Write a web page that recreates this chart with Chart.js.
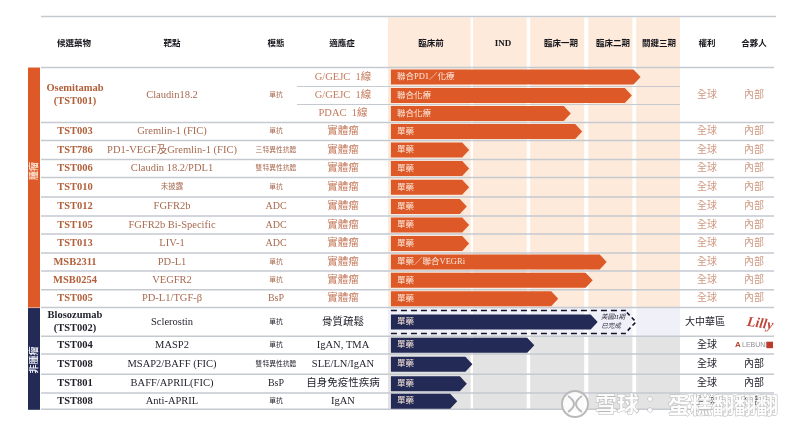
<!DOCTYPE html>
<html>
<head>
<meta charset="utf-8">
<script src="https://cdn.jsdelivr.net/npm/chart.js@4"></script>
<style>html,body{margin:0;background:#fff}#wrap{width:800px;height:430px}</style>
</head>
<body>
<div id="wrap"><canvas id="c" width="800" height="430"></canvas></div>
<script>
const SERIF = "'Liberation Serif','Noto Sans CJK TC',serif";
const CJK = "'Noto Sans CJK TC','Liberation Serif',sans-serif";
const ORANGE = '#dd5a28', NAVY = '#222a55', PEACH = '#fdeadb', GREY = '#e3e3e3', LAV = '#f0f1f8', RULE = '#c5c9d0';
const TEXT_O = '#a86a50', DRUG_O = '#b2603a', TEXT_N = '#1f1f2a', PALE_O = '#cf9a82';

// header
const headersLeft = ['候選藥物', '靶點', '模態', '適應症'];
const stages = ['臨床前', 'IND', '臨床一期', '臨床二期', '關鍵三期'];
const headersRight = ['權利', '合夥人'];
// stage columns on the pipeline axis, 0-100
const stageFrom = [0, 29.1, 48.7, 68.6, 85];
const stageTo = [28.3, 47.5, 67.2, 83.7, 100];

// row edges in row units, first one is the header bottom
const rowEdges = [0, 1.03, 2.01, 2.99, 3.97, 5.0, 5.98, 7.04, 8.07, 9.05, 10.08, 11.06, 12.08, 13.05, 14.61, 15.58, 16.67, 17.7, 18.58];
const indications = ['G/GEJC  1線', 'G/GEJC  1線', 'PDAC  1線', '實體瘤', '實體瘤', '實體瘤', '實體瘤', '實體瘤', '實體瘤', '實體瘤', '實體瘤', '實體瘤', '實體瘤', '骨質疏鬆', 'IgAN, TMA', 'SLE/LN/IgAN', '自身免疫性疾病', 'IgAN'];
const barLabels = ['聯合PD1／化療', '聯合化療', '聯合化療', '單藥', '單藥', '單藥', '單藥', '單藥', '單藥', '單藥', '單藥／聯合VEGRi', '單藥', '單藥', '單藥', '單藥', '單藥', '單藥', '單藥'];
const barStart = [1, 1, 1, 1, 1, 1, 1, 1, 1, 1, 1, 1, 1, 1, 1, 1, 1, 1];
const barEnd = [86.5, 83.5, 62.6, 66.5, 27.8, 27.8, 27.8, 27, 27.8, 27.8, 74.9, 70.1, 58.3, 71.8, 50.1, 28.9, 27, 23.7];
const oncologyRows = 13;
const bloRow = 13;
const bloDashedEnd = 84.9;

// one entry per drug, first three rows share Osemitamab
const drugSpans = [3, 1, 1, 1, 1, 1, 1, 1, 1, 1, 1, 1, 1, 1, 1, 1];
const drugs = ['Osemitamab\n(TST001)', 'TST003', 'TST786', 'TST006', 'TST010', 'TST012', 'TST105', 'TST013', 'MSB2311', 'MSB0254', 'TST005', 'Blosozumab\n(TST002)', 'TST004', 'TST008', 'TST801', 'TST808'];
const targets = ['Claudin18.2', 'Gremlin-1 (FIC)', 'PD1-VEGF及Gremlin-1 (FIC)', 'Claudin 18.2/PDL1', '未披露', 'FGFR2b', 'FGFR2b Bi-Specific', 'LIV-1', 'PD-L1', 'VEGFR2', 'PD-L1/TGF-β', 'Sclerostin', 'MASP2', 'MSAP2/BAFF (FIC)', 'BAFF/APRIL(FIC)', 'Anti-APRIL'];
const modalities = ['單抗', '單抗', '三特異性抗體', '雙特異性抗體', '單抗', 'ADC', 'ADC', 'ADC', '單抗', '單抗', 'BsP', '單抗', '單抗', '雙特異性抗體', 'BsP', '單抗'];
const rights = ['全球', '全球', '全球', '全球', '全球', '全球', '全球', '全球', '全球', '全球', '全球', '大中華區', '全球', '全球', '全球', '全球'];
const partners = ['內部', '內部', '內部', '內部', '內部', '內部', '內部', '內部', '內部', '內部', '內部', '', '', '內部', '內部', '內部'];

const rowMid = (i) => (rowEdges[i] + rowEdges[i + 1]) / 2;
const Y_HEAD = -1.32, Y_TOP = -2.72, Y_END = 18.58;

// pipeline bars are arrows, not rectangles
Chart.BarElement.prototype.draw = function (ctx) {
  const { x, y, base, height, options } = this;
  const top = y - height / 2, bot = y + height / 2;
  ctx.save();
  if (options.borderWidth > 0) {
    ctx.strokeStyle = options.borderColor;
    ctx.lineWidth = 1.6;
    ctx.setLineDash([6, 4]);
    ctx.beginPath();
    ctx.moveTo(base, top); ctx.lineTo(x - 10, top);
    ctx.moveTo(base, bot); ctx.lineTo(x - 10, bot);
    ctx.stroke();
    ctx.setLineDash([4, 3]);
    ctx.beginPath();
    ctx.moveTo(x - 9, top + 2); ctx.lineTo(x, y); ctx.lineTo(x - 9, bot - 2);
    ctx.stroke();
  } else {
    ctx.fillStyle = options.backgroundColor;
    ctx.beginPath();
    ctx.moveTo(base, top); ctx.lineTo(x - 7, top); ctx.lineTo(x, y); ctx.lineTo(x - 7, bot); ctx.lineTo(base, bot);
    ctx.closePath();
    ctx.fill();
  }
  ctx.restore();
};

function put(ctx, s, x, y, font, color, align) {
  ctx.font = font;
  ctx.fillStyle = color;
  ctx.textAlign = align || 'center';
  ctx.textBaseline = 'middle';
  ctx.fillText(s, x, y);
}

function hline(ctx, x0, x1, y, w) {
  ctx.strokeStyle = RULE;
  ctx.lineWidth = w || 1.4;
  ctx.beginPath(); ctx.moveTo(x0, y); ctx.lineTo(x1, y); ctx.stroke();
}

const bands = {
  id: 'bands',
  beforeDatasetsDraw(chart) {
    const { ctx, scales: { x, y } } = chart;
    ctx.save();
    stageFrom.forEach((f, i) => {
      const x0 = x.getPixelForValue(f), x1 = x.getPixelForValue(stageTo[i]);
      const fill = (a, b, col) => {
        ctx.fillStyle = col;
        ctx.fillRect(x0, y.getPixelForValue(a), x1 - x0, y.getPixelForValue(b) - y.getPixelForValue(a));
      };
      fill(Y_TOP, rowEdges[oncologyRows], PEACH);
      fill(rowEdges[bloRow], rowEdges[bloRow + 1], LAV);
      fill(rowEdges[bloRow + 1], Y_END, GREY);
    });
    const px = (v) => y.getPixelForValue(v);
    hline(ctx, 41, 776, px(Y_TOP) - 1);
    hline(ctx, 41, 774, px(0));
    rowEdges.slice(1).forEach((e, i) => {
      if (i < 2) hline(ctx, 297, x.getPixelForValue(100), px(e), 1);
      else hline(ctx, 41, 774, px(e), 1.5);
    });
    ctx.restore();
  }
};

const table = {
  id: 'table',
  afterDatasetsDraw(chart) {
    const { ctx, scales: { x, y } } = chart;
    const px = (v) => y.getPixelForValue(v);
    ctx.save();

    // side stripes
    ctx.fillStyle = ORANGE;
    ctx.fillRect(28, px(0), 12, px(rowEdges[oncologyRows]) - px(0));
    ctx.fillStyle = NAVY;
    ctx.fillRect(28, px(rowEdges[oncologyRows]) + 0.5, 12, px(Y_END) - px(rowEdges[oncologyRows]));
    ctx.save();
    ctx.translate(34, 171); ctx.rotate(-Math.PI / 2);
    put(ctx, '腫瘤', 0, 0, `bold 9px ${CJK}`, '#fbe3d3');
    ctx.restore();
    ctx.save();
    ctx.translate(34, 360); ctx.rotate(-Math.PI / 2);
    put(ctx, '非腫瘤', 0, 0, `bold 9px ${CJK}`, '#e8e9f2');
    ctx.restore();

    // header row
    const hy = px(Y_HEAD);
    const hFont = `bold 8.5px ${CJK}`;
    [74, 172, 276, 342].forEach((cx, i) => put(ctx, headersLeft[i], cx, hy, hFont, '#15151c'));
    [431, 503, 561, 613, 659].forEach((cx, i) =>
      put(ctx, stages[i], cx, hy, stages[i] === 'IND' ? `bold 9px ${SERIF}` : hFont, '#15151c'));
    [707, 754].forEach((cx, i) => put(ctx, headersRight[i], cx, hy, hFont, '#15151c'));

    // indications + bar labels
    indications.forEach((s, i) => {
      const cy = px(rowMid(i));
      put(ctx, s, 343, cy, `10.5px ${SERIF}`, i < oncologyRows ? '#c47a5c' : TEXT_N);
      put(ctx, barLabels[i], 397, cy, `8.5px ${SERIF}`, '#fbe9de', 'left');
    });

    // one row per drug
    let at = 0;
    drugs.forEach((name, i) => {
      const cy = (px(rowEdges[at]) + px(rowEdges[at + drugSpans[i]])) / 2;
      const onc = at < oncologyRows;
      const lines = name.split('\n');
      lines.forEach((l, k) => {
        const ly = cy + (k - (lines.length - 1) / 2) * 13;
        put(ctx, l, 75, ly, `bold 10.5px ${SERIF}`, onc ? DRUG_O : TEXT_N);
      });
      put(ctx, targets[i], 172, cy, (targets[i] === '未披露' ? '7.5px ' : '10.5px ') + SERIF, onc ? TEXT_O : TEXT_N);
      const big = /^[A-Z]/.test(modalities[i]);
      put(ctx, modalities[i], 276, cy, (big ? '10px ' : '6.8px ') + SERIF, onc ? TEXT_O : TEXT_N);
      put(ctx, rights[i], i === 11 ? 705 : 707, cy, `10px ${SERIF}`, onc ? PALE_O : TEXT_N);
      if (partners[i]) put(ctx, partners[i], 754, cy, `10px ${SERIF}`, onc ? PALE_O : TEXT_N);
      at += drugSpans[i];
    });

    // note at the tip of the dashed arrow
    const bloY = px(rowMid(bloRow));
    put(ctx, '美國II期', 613, bloY - 4.5, `italic 6.5px ${SERIF}`, '#2a2a3a');
    put(ctx, '已完成', 611, bloY + 4, `italic 6.5px ${SERIF}`, '#2a2a3a');

    // partner logos
    ctx.save();
    ctx.translate(760, bloY + 2); ctx.rotate(0.14);
    put(ctx, 'Lilly', 0, 0, `italic bold 14px ${SERIF}`, '#c0463a');
    ctx.restore();
    const aleY = px(rowMid(bloRow + 1));
    put(ctx, 'A', 738, aleY, `bold 8px 'Liberation Sans'`, '#b8432f');
    put(ctx, 'LEBUND', 742, aleY, `7px 'Liberation Sans'`, '#8d8d95', 'left');
    ctx.fillStyle = '#c0392b';
    ctx.fillRect(766.5, aleY - 3.5, 6.5, 6.5);

    // watermark
    ctx.lineWidth = 2; ctx.strokeStyle = '#b9b9b9';
    ctx.beginPath(); ctx.arc(575, 404, 13, 0, Math.PI * 2); ctx.fillStyle = 'rgba(255,255,255,.85)'; ctx.fill(); ctx.stroke();
    ctx.beginPath(); ctx.moveTo(568, 396); ctx.quadraticCurveTo(580, 404, 568, 412); ctx.stroke();
    ctx.beginPath(); ctx.moveTo(582, 396); ctx.quadraticCurveTo(570, 404, 582, 412); ctx.stroke();
    ctx.font = `bold 22px ${CJK}`;
    ctx.textAlign = 'left'; ctx.textBaseline = 'middle';
    ctx.lineWidth = 1; ctx.fillStyle = 'rgba(255,255,255,.9)';
    ctx.strokeText('雪球：', 595, 404); ctx.fillText('雪球：', 595, 404);
    ctx.strokeText('蛋糕翻翻翻', 668, 405); ctx.fillText('蛋糕翻翻翻', 668, 405);
    ctx.restore();
  }
};

new Chart(document.getElementById('c'), {
  type: 'bar',
  data: {
    datasets: [
      {
        data: barEnd.map((v, i) => ({ x: [barStart[i], v], y: rowMid(i) })),
        backgroundColor: barEnd.map((v, i) => i < oncologyRows ? ORANGE : NAVY),
        barThickness: 15, grouped: false, order: 1
      },
      {
        data: [{ x: [barStart[bloRow], bloDashedEnd], y: rowMid(bloRow) }],
        backgroundColor: 'transparent', borderColor: '#14142a', borderWidth: 2,
        barThickness: 23, grouped: false, order: 2
      }
    ]
  },
  options: {
    indexAxis: 'y', responsive: false, animation: false,
    layout: { padding: { left: 388, right: 120, top: 17.5, bottom: 20.7 } },
    scales: {
      x: { type: 'linear', min: 0, max: 100, display: false },
      y: { type: 'linear', min: Y_TOP, max: Y_END, reverse: true, display: false, offset: false }
    },
    plugins: { legend: { display: false }, tooltip: { enabled: false } }
  },
  plugins: [bands, table]
});
</script>
</body>
</html>
